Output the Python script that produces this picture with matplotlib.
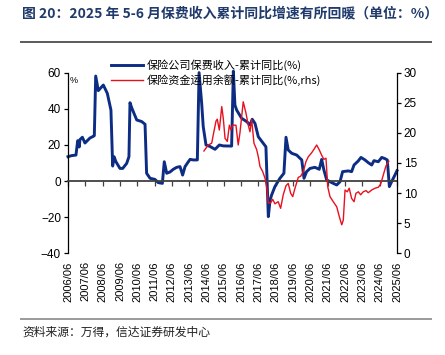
import matplotlib
matplotlib.use("Agg")
import matplotlib.pyplot as plt
from matplotlib.lines import Line2D

plt.rcParams['font.family'] = ['Liberation Sans', 'Noto Sans CJK SC', 'DejaVu Sans']
cjk = ['Noto Sans CJK SC', 'DejaVu Sans']

# 保险公司保费收入-累计同比(%)，横轴为年份(小数)
prem_t = [2006.50, 2006.71, 2006.96, 2007.06, 2007.15, 2007.19, 2007.33, 2007.48, 2007.77, 2007.96,
          2008.02, 2008.10, 2008.25, 2008.54, 2008.77, 2008.98, 2009.08, 2009.16, 2009.27, 2009.50,
          2009.66, 2009.89, 2010.02, 2010.08, 2010.18, 2010.31, 2010.47, 2010.76, 2010.95, 2011.04,
          2011.24, 2011.52, 2011.71, 2011.95, 2012.06, 2012.20, 2012.39, 2012.58, 2012.78, 2012.97,
          2013.12, 2013.26, 2013.45, 2013.55, 2013.74, 2013.97, 2014.07, 2014.22, 2014.31, 2014.47,
          2014.70, 2014.99, 2015.24, 2015.47, 2015.95, 2016.05, 2016.14, 2016.24, 2016.53, 2016.82,
          2017.01, 2017.14, 2017.30, 2017.49, 2017.78, 2017.93, 2018.07, 2018.17, 2018.26, 2018.45,
          2018.74, 2018.97, 2019.09, 2019.22, 2019.42, 2019.71, 2019.90, 2020.00, 2020.13, 2020.28,
          2020.48, 2020.76, 2021.01, 2021.15, 2021.28, 2021.44, 2021.73, 2022.02, 2022.21, 2022.36,
          2022.69, 2022.88, 2023.02, 2023.26, 2023.42, 2023.65, 2023.84, 2024.04, 2024.17, 2024.42,
          2024.62, 2024.81, 2024.94, 2025.06, 2025.19, 2025.38, 2025.50]
prem_v = [13.5, 14.1, 14.4, 22.4, 18.9, 23.0, 24.3, 21.1, 23.9, 24.8,
          25.2, 58.3, 50.2, 53.3, 48.7, 39.4, 8.3, 13.5, 10.7, 7.0,
          7.0, 9.8, 13.5, 43.5, 40.7, 37.6, 33.9, 33.0, 31.5, 4.3,
          1.5, 0.9, -0.9, -1.3, 10.7, 4.3, 5.0, 6.5, 7.6, 8.0,
          3.3, 8.0, 10.7, 12.0, 11.7, 11.7, 60.2, 43.2, 30.2, 20.0,
          19.2, 17.6, 20.0, 19.5, 19.4, 61.0, 42.2, 39.4, 34.8, 33.0,
          31.1, 34.3, 32.0, 24.6, 20.9, 19.0, -19.8, -10.6, -7.8, -3.1,
          1.5, 4.3, 24.3, 17.2, 15.4, 14.4, 12.6, 11.7, 1.5, 5.2,
          7.0, 7.6, 6.5, 12.0, 6.1, 0.6, -0.9, -2.2, -0.4, 5.2,
          5.6, 5.2, 8.9, 11.1, 13.1, 11.7, 10.2, 8.9, 11.3, 10.7,
          13.1, 12.4, 11.7, -3.1, -0.4, 3.3, 5.7]

# 保险资金运用余额-累计同比(%, rhs)
fund_t = [2014.35, 2014.60, 2014.80, 2014.89, 2015.05, 2015.12, 2015.24, 2015.38, 2015.47, 2015.57,
          2015.70, 2015.82, 2015.91, 2016.01, 2016.20, 2016.33, 2016.43, 2016.62, 2016.78, 2016.91,
          2017.01, 2017.11, 2017.24, 2017.40, 2017.49, 2017.59, 2017.74, 2017.88, 2017.98, 2018.07,
          2018.21, 2018.32, 2018.45, 2018.64, 2018.78, 2018.93, 2019.09, 2019.22, 2019.36, 2019.48,
          2019.61, 2019.80, 2019.94, 2020.09, 2020.24, 2020.38, 2020.57, 2020.71, 2020.86, 2021.01,
          2021.15, 2021.28, 2021.40, 2021.50, 2021.63, 2021.82, 2022.02, 2022.17, 2022.31, 2022.40,
          2022.50, 2022.63, 2022.74, 2022.88, 2023.02, 2023.13, 2023.27, 2023.40, 2023.55, 2023.71,
          2023.84, 2024.04, 2024.23, 2024.42, 2024.56, 2024.71, 2024.86, 2025.03]
fund_v = [17.0, 18.0, 18.3, 19.7, 22.0, 22.3, 20.5, 24.4, 22.4, 19.1,
          18.6, 21.3, 20.5, 21.3, 21.3, 18.0, 20.0, 25.2, 23.3, 21.3,
          20.2, 22.2, 18.3, 17.2, 16.05, 14.4, 13.6, 12.45, 10.8, 8.3,
          8.4, 8.95, 8.2, 8.55, 7.45, 9.7, 11.2, 11.6, 9.95, 9.4,
          10.8, 12.6, 12.8, 13.55, 15.2, 16.05, 16.7, 17.3, 18.0, 17.2,
          16.3, 15.6, 15.8, 11.05, 9.4, 8.55, 7.7, 6.05, 4.7, 5.5,
          10.5, 10.2, 10.8, 9.1, 8.55, 9.95, 10.2, 9.7, 10.2, 10.4,
          10.05, 10.5, 10.8, 10.95, 11.5, 13.0, 14.5, 15.3]

years = list(range(2006, 2026))
tick_labels = [f"{y}/06" for y in years]

fig = plt.figure(figsize=(4.45, 3.55), dpi=100)
ax = fig.add_axes([0.1528, 0.2873, 0.7393, 0.5071])
ax2 = ax.twinx()

ax.plot(prem_t, prem_v, color='#0C2D83', lw=2.1, clip_on=False, label='保险公司保费收入-累计同比(%)')
ax2.plot(fund_t, fund_v, color='#E8101E', lw=1.0, label='保险资金运用余额-累计同比(%,rhs)')

ax.set_xlim(2006.5, 2025.5)
ax.set_ylim(-40, 60)
ax.set_yticks([-40, -20, 0, 20, 40, 60])
ax2.set_ylim(0, 30)
ax2.set_yticks([0, 5, 10, 15, 20, 25, 30])

for a in (ax, ax2):
    a.spines['top'].set_visible(False)
    a.spines['bottom'].set_visible(False)
ax.spines['right'].set_visible(False)
ax2.spines['left'].set_visible(False)
ax.spines['left'].set_linewidth(0.9)
ax2.spines['right'].set_linewidth(0.9)

# 零轴及刻度
ax.spines['bottom'].set_visible(True)
ax.spines['bottom'].set_position(('data', 0))
ax.spines['bottom'].set_color('#404040')
ax.spines['bottom'].set_linewidth(1.3)
ax.set_xticks([y + 0.5 for y in years])
ax.tick_params(axis='x', direction='out', length=3.5, width=0.9, color='#404040', labelbottom=False)
ax.tick_params(axis='y', direction='out', length=3, width=0.9, labelsize=8.5, pad=2)
ax2.tick_params(axis='y', direction='out', length=3, width=0.9, labelsize=8.5, pad=2)

sec = ax.secondary_xaxis('bottom')
sec.set_xticks([y + 0.5 for y in years], tick_labels, rotation=90)
sec.tick_params(length=0, labelsize=8, pad=6)
sec.spines['bottom'].set_visible(False)

ax.text(0.004, 0.985, '%', transform=ax.transAxes, fontsize=6.5, va='top', ha='left')

h1, l1 = ax.get_legend_handles_labels()
h2, l2 = ax2.get_legend_handles_labels()
leg = fig.legend(h1 + h2, l1 + l2, loc='upper left', bbox_to_anchor=(111 / 445, 1 - 59 / 355),
                 frameon=False, prop={'family': cjk, 'size': 8}, handlelength=2.9,
                 handletextpad=0.35, labelspacing=0.3, borderpad=0, borderaxespad=0)

fig.text(22 / 445, 1 - 13 / 355, '图 20：2025 年 5-6 月保费收入累计同比增速有所回暖（单位：%）',
         family=cjk, fontsize=10, fontweight='bold', color='#1F3A6B', va='center', ha='left')
fig.add_artist(Line2D([21 / 445, 431 / 445], [1 - 42 / 355] * 2, color='#5A5A5A', lw=1.4))
fig.add_artist(Line2D([21 / 445, 431 / 445], [1 - 319 / 355] * 2, color='#9A9A9A', lw=1.4))
fig.text(22 / 445, 1 - 332 / 355, '资料来源：万得，信达证券研发中心',
         family=cjk, fontsize=8.5, color='#202020', va='center', ha='left')

fig.savefig('out.png', dpi=100)
